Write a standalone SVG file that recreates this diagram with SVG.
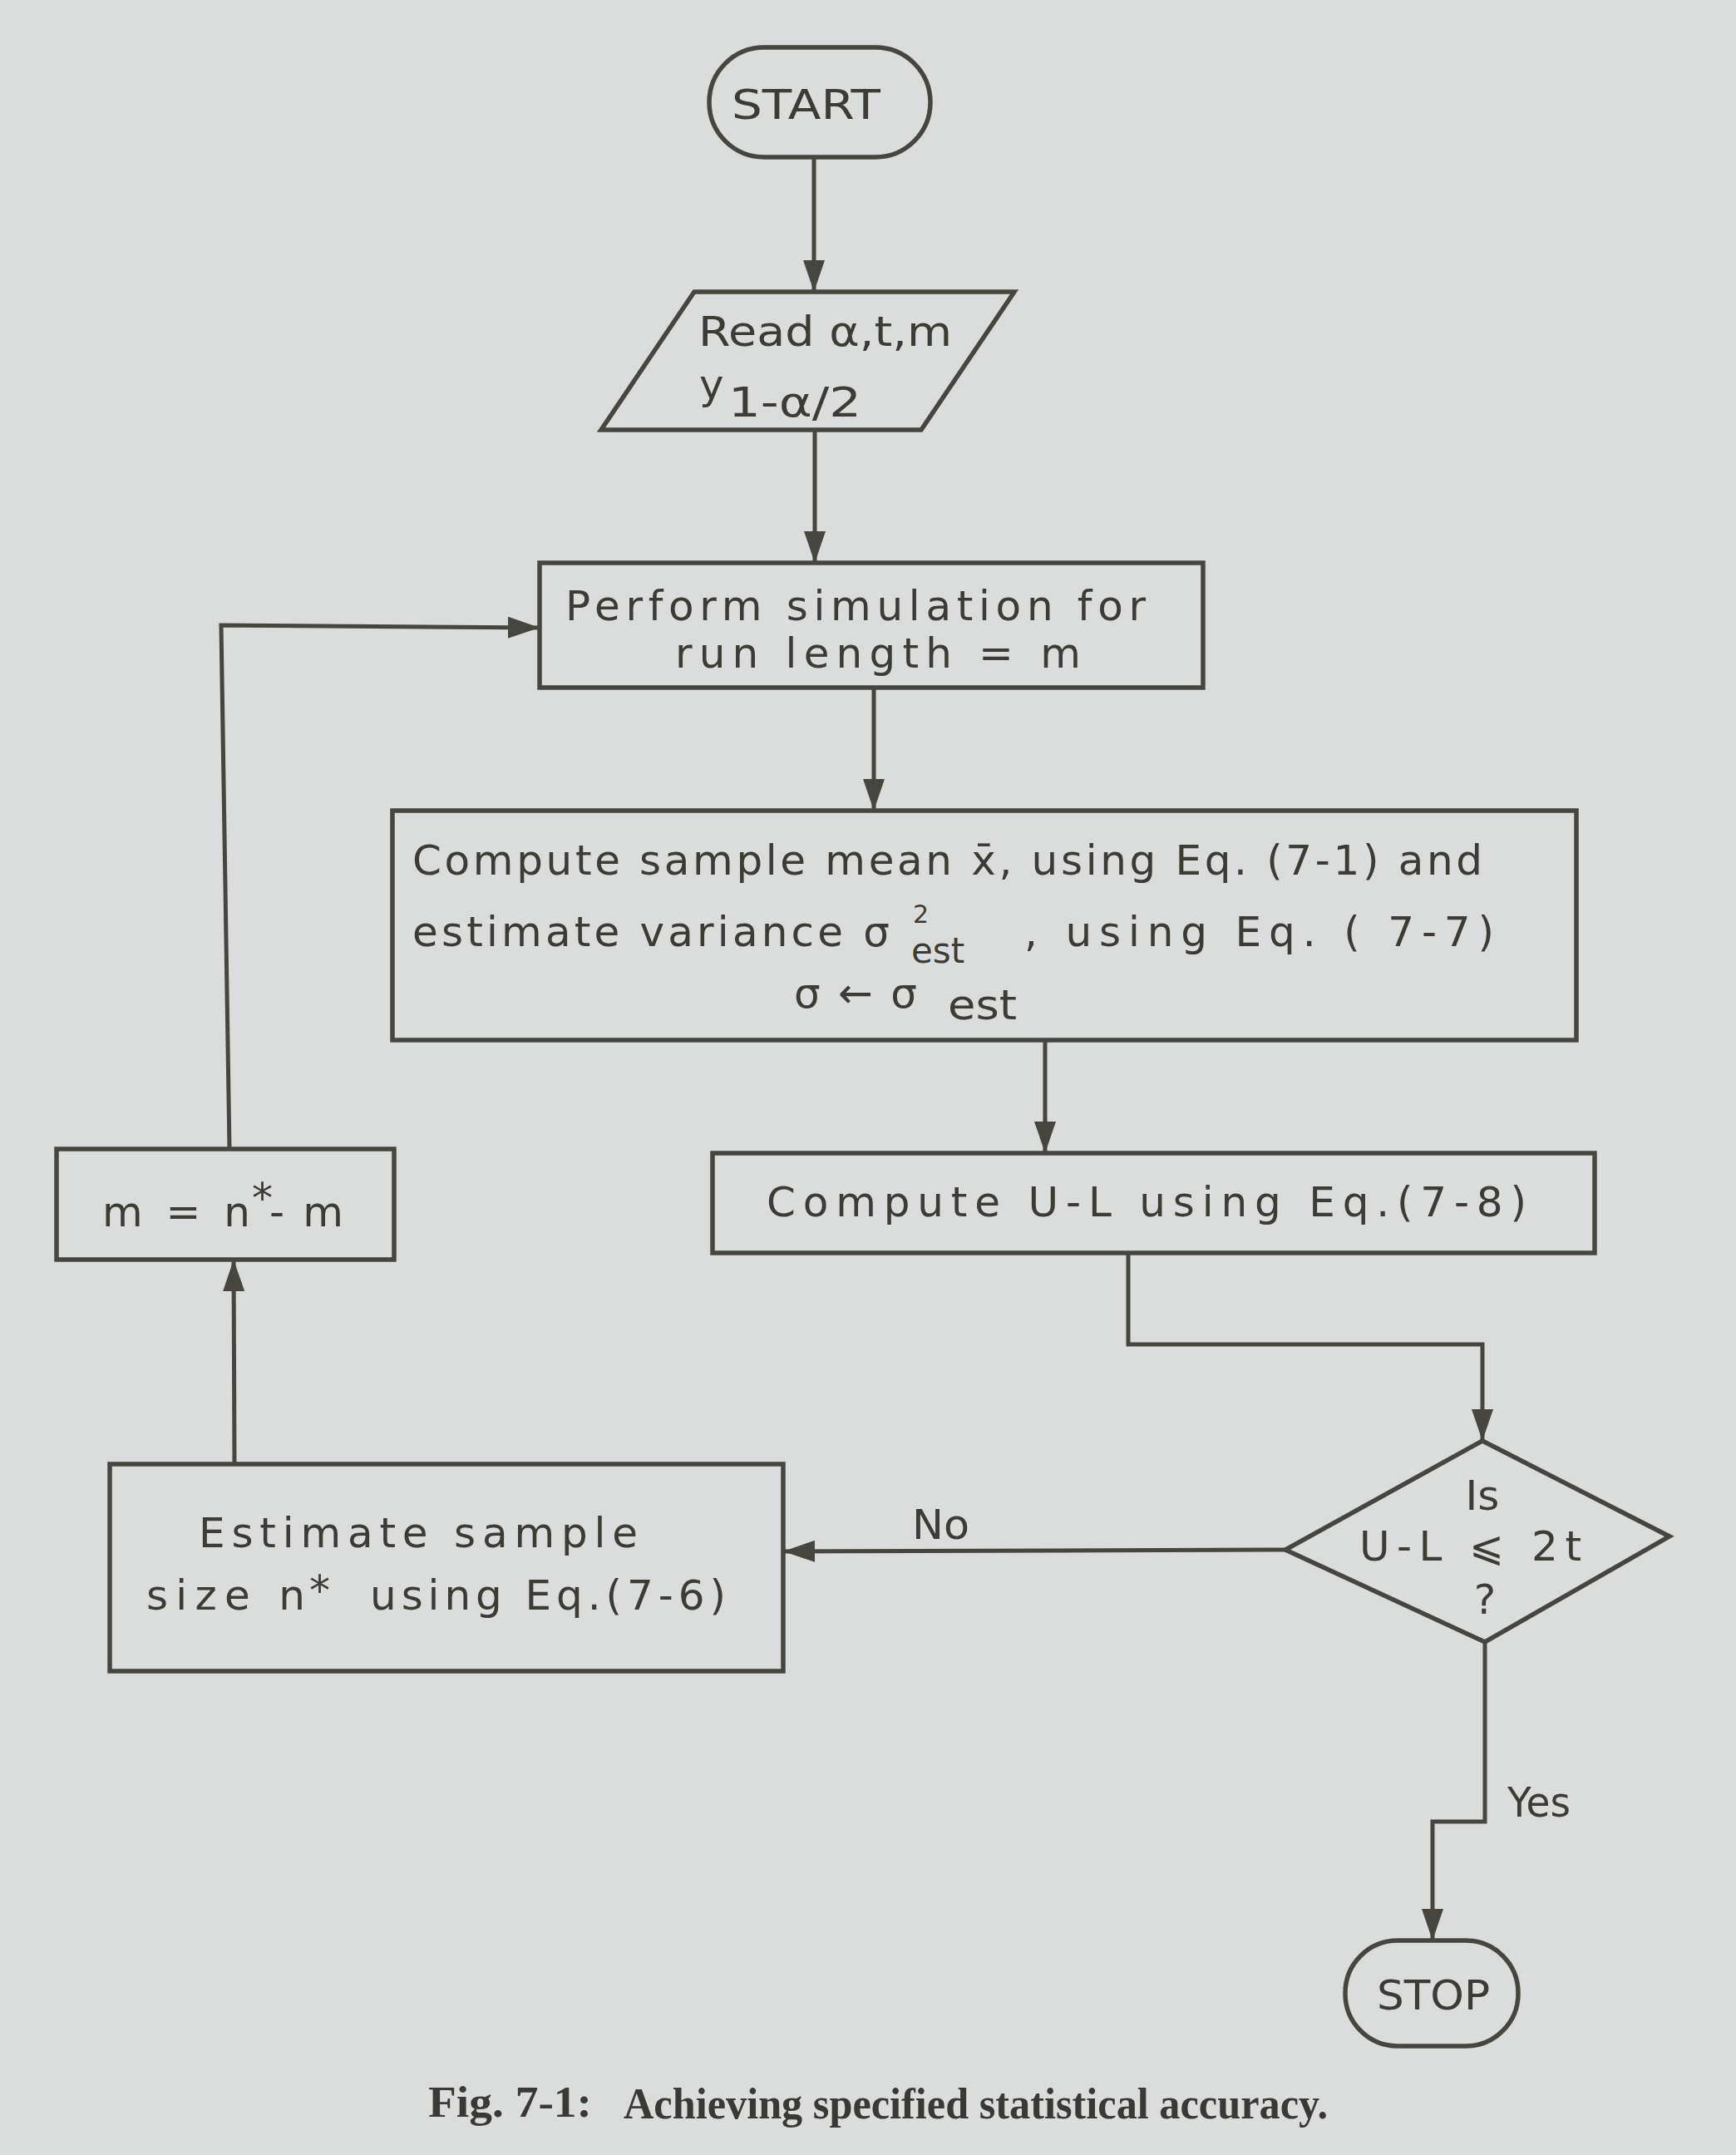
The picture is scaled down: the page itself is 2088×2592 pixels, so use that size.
<svg xmlns="http://www.w3.org/2000/svg" width="2088" height="2592" viewBox="0 0 2088 2592">
<defs>
<style>
.shape{fill:none;stroke:#46453f;stroke-width:5.5;stroke-linejoin:miter}
.conn{fill:none;stroke:#46453f;stroke-width:5}
.t{font-family:"DejaVu Sans","Liberation Sans",sans-serif;fill:#3c3b36;font-size:50px}
.cap{font-family:"Liberation Serif","Times New Roman",serif;font-weight:bold;fill:#3a3935;font-size:52px}
.sup{font-size:30px}
.sub{font-size:42px}
</style>
<marker id="ah" markerUnits="userSpaceOnUse" markerWidth="40" markerHeight="28" refX="38" refY="13" orient="auto">
<path d="M0,0 L38,13 L0,26 Z" fill="#46453f"/>
</marker>
</defs>
<rect x="0" y="0" width="2088" height="2592" fill="#dadddb"/>

<g id="connectors">
<path class="conn" d="M979,189 L979,351" marker-end="url(#ah)"/>
<path class="conn" d="M980,517 L980,677" marker-end="url(#ah)"/>
<path class="conn" d="M1051,827 L1051,975" marker-end="url(#ah)"/>
<path class="conn" d="M1257,1251 L1257,1387" marker-end="url(#ah)"/>
<path class="conn" d="M1357,1507 L1357,1617 L1783,1617 L1783,1733" marker-end="url(#ah)"/>
<path class="conn" d="M1546,1864 L942,1866" marker-end="url(#ah)"/>
<path class="conn" d="M1786,1975 L1786,2191 L1723,2191 L1723,2334" marker-end="url(#ah)"/>
<path class="conn" d="M282,1761 L281,1515" marker-end="url(#ah)"/>
<path class="conn" d="M276,1382 L266,752 L649,755" marker-end="url(#ah)"/>
<text class="t" x="1097" y="1851" textLength="69" lengthAdjust="spacingAndGlyphs">No</text>
<text class="t" x="1813" y="2185" textLength="76" lengthAdjust="spacingAndGlyphs">Yes</text>
</g>

<g id="start">
<rect class="shape" x="853" y="57" width="266" height="132" rx="66" ry="66"/>
<text class="t" x="880" y="143" font-size="52" textLength="179" lengthAdjust="spacingAndGlyphs">START</text>
</g>

<g id="read">
<polygon class="shape" points="835,351 1220,351 1108,517 723,517"/>
<text class="t" x="840" y="416" textLength="305" lengthAdjust="spacingAndGlyphs">Read α,t,m</text>
<text class="t" x="841" y="480" font-size="52">y</text>
<text class="t" x="876" y="501" textLength="160" lengthAdjust="spacingAndGlyphs">1-α/2</text>
</g>

<g id="perform">
<rect class="shape" x="649" y="677" width="798" height="150"/>
<text class="t" x="680" y="746" font-size="42" textLength="698" lengthAdjust="spacing">Perform simulation for</text>
<text class="t" x="812" y="803" font-size="42" textLength="488" lengthAdjust="spacing">run length = m</text>
</g>

<g id="compute-stats">
<rect class="shape" x="472" y="975" width="1424" height="276"/>
<text class="t" x="496" y="1052" textLength="1287" lengthAdjust="spacing">Compute sample mean x̄, using Eq. (7-1) and</text>
<text class="t" x="496" y="1138" textLength="574" lengthAdjust="spacing">estimate variance σ</text>
<text class="t" x="1098" y="1110"><tspan class="sup" x="1098" y="1110">2</tspan><tspan class="sub" x="1096" y="1158">est</tspan></text>
<text class="t" x="1232" y="1138" textLength="565" lengthAdjust="spacing">,  using  Eq. ( 7-7)</text>
<text class="t" x="955" y="1212" textLength="148" lengthAdjust="spacing">σ ← σ</text>
<text class="t" x="1140" y="1226" textLength="83" lengthAdjust="spacingAndGlyphs">est</text>
</g>

<g id="compute-ul">
<rect class="shape" x="857" y="1387" width="1061" height="120"/>
<text class="t" x="922" y="1463" textLength="914" lengthAdjust="spacing">Compute U-L using Eq.(7-8)</text>
</g>

<g id="decision">
<polygon class="shape" points="1783,1733 2008,1848 1786,1975 1546,1864"/>
<text class="t" x="1783" y="1816" text-anchor="middle">Is</text>
<text class="t" x="1635" y="1877" textLength="267" lengthAdjust="spacing">U-L ⩽ 2t</text>
<text class="t" x="1786" y="1941" text-anchor="middle">?</text>
</g>

<g id="estimate">
<rect class="shape" x="132" y="1761" width="810" height="249"/>
<text class="t" x="239" y="1861" textLength="528" lengthAdjust="spacing">Estimate  sample</text>
<text class="t" x="176" y="1936" textLength="191" lengthAdjust="spacing">size n</text>
<text class="t" x="372" y="1930" font-size="44">*</text>
<text class="t" x="445" y="1936" textLength="428" lengthAdjust="spacing">using Eq.(7-6)</text>
</g>

<g id="update-m">
<rect class="shape" x="68" y="1382" width="406" height="133"/>
<text class="t" x="123" y="1475" textLength="178" lengthAdjust="spacing">m = n</text>
<text class="t" x="303" y="1458" font-size="34">*</text>
<text class="t" x="324" y="1475" textLength="89" lengthAdjust="spacing">- m</text>
</g>

<g id="stop">
<rect class="shape" x="1618" y="2334" width="208" height="127" rx="63" ry="63"/>
<text class="t" x="1656" y="2417" font-size="52" textLength="136" lengthAdjust="spacingAndGlyphs">STOP</text>
</g>

<g id="caption">
<text class="cap" x="515" y="2546" textLength="197" lengthAdjust="spacingAndGlyphs">Fig. 7-1:</text>
<text class="cap" x="750" y="2548" textLength="847" lengthAdjust="spacingAndGlyphs">Achieving specified statistical accuracy.</text>
</g>
</svg>
